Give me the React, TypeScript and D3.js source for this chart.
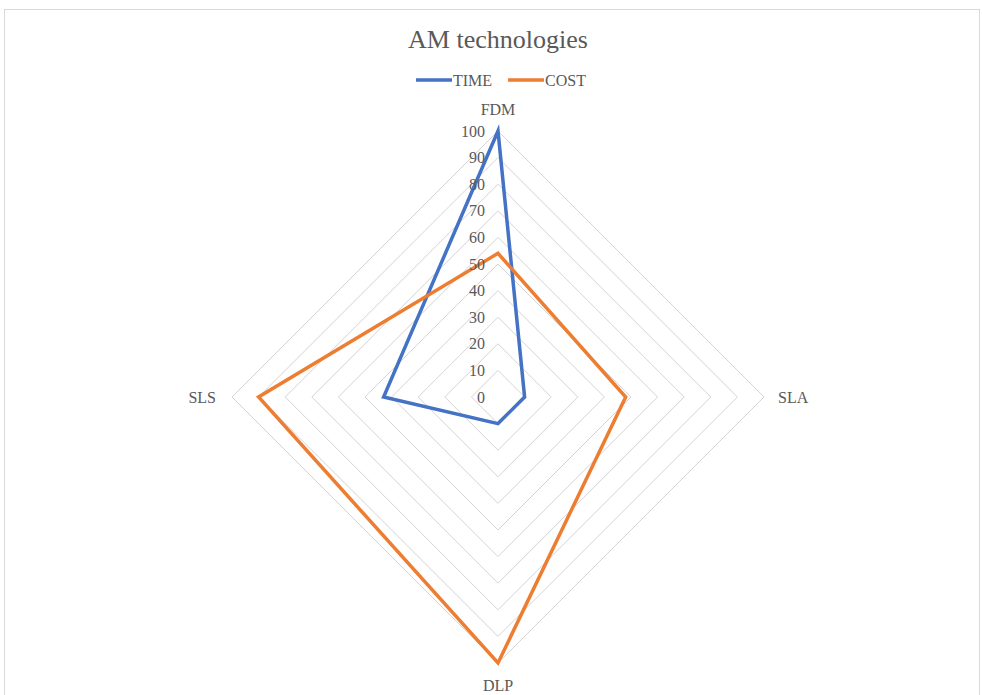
import { useEffect, useRef } from "react"
import * as d3 from "d3"

const axes = ["FDM", "SLA", "DLP", "SLS"]
const timeValues = [100, 10, 10, 43]
const costValues = [54, 48, 100, 90]
const tickValues = [0, 10, 20, 30, 40, 50, 60, 70, 80, 90, 100]
const seriesNames = ["TIME", "COST"]
const seriesColors = ["#4472C4", "#ED7D31"]

const App = () => {
  const ref = useRef<SVGSVGElement>(null)
  const width = 982
  const height = 695
  const cx = 498
  const cy = 397
  const radius = 266

  useEffect(() => {
    const svg = d3.select(ref.current)
    svg.selectAll("*").remove()
    const font = "'Liberation Serif', 'DejaVu Serif', serif"

    svg.append("rect")
      .attr("x", 4.5).attr("y", 9.5)
      .attr("width", 975).attr("height", 700)
      .attr("fill", "white").attr("stroke", "#d9d9d9")

    const r = d3.scaleLinear().domain([0, 100]).range([0, radius])
    const angle = d3.scalePoint<string>().domain(axes).range([0, 2 * Math.PI * 3 / 4])

    const pt = (a: string, v: number): [number, number] => {
      const t = angle(a)! - Math.PI / 2
      return [cx + r(v) * Math.cos(t), cy + r(v) * Math.sin(t)]
    }

    const g = svg.append("g")

    // grid diamonds
    tickValues.filter(t => t > 0).forEach(t => {
      g.append("path")
        .attr("d", d3.line()(axes.map(a => pt(a, t))) + "Z")
        .attr("fill", "none")
        .attr("stroke", "#d4d4d4")
        .attr("stroke-width", 1)
    })

    // series
    const allSeries = [timeValues, costValues]
    allSeries.forEach((vals, i) => {
      g.append("path")
        .attr("d", d3.line()(axes.map((a, j) => pt(a, vals[j]))) + "Z")
        .attr("fill", "none")
        .attr("stroke", seriesColors[i])
        .attr("stroke-width", 3.5)
        .attr("stroke-linejoin", "miter")
    })

    // tick labels
    g.selectAll(".tick")
      .data(tickValues)
      .join("text")
      .attr("x", cx - 13)
      .attr("y", d => cy - r(d))
      .attr("dy", "0.35em")
      .attr("text-anchor", "end")
      .attr("font-family", font)
      .attr("font-size", 16)
      .attr("fill", "#595959")
      .text(d => d)

    // axis labels
    const labelPos: Record<string, [number, number, string]> = {
      FDM: [cx, cy - radius - 22, "middle"],
      SLA: [cx + radius + 14, cy, "start"],
      DLP: [cx, cy + radius + 22, "middle"],
      SLS: [cx - radius - 16, cy, "end"],
    }
    axes.forEach(a => {
      const [x, y, anchor] = labelPos[a]
      g.append("text")
        .attr("x", x).attr("y", y)
        .attr("dy", "0.35em")
        .attr("text-anchor", anchor)
        .attr("font-family", font)
        .attr("font-size", 16)
        .attr("fill", "#595959")
        .text(a)
    })

    // title
    svg.append("text")
      .attr("x", cx).attr("y", 48)
      .attr("text-anchor", "middle")
      .attr("font-family", font)
      .attr("font-size", 26)
      .attr("fill", "#595959")
      .text("AM technologies")

    // legend
    const legendX = [416, 508]
    seriesNames.forEach((n, i) => {
      const lg = svg.append("g").attr("transform", `translate(${legendX[i]},80)`)
      lg.append("line")
        .attr("x1", 0).attr("x2", 36).attr("y1", 0).attr("y2", 0)
        .attr("stroke", seriesColors[i]).attr("stroke-width", 3.5)
      lg.append("text")
        .attr("x", 37).attr("y", 0).attr("dy", "0.35em")
        .attr("font-family", font)
        .attr("font-size", 16)
        .attr("fill", "#595959")
        .text(n)
    })
  }, [])

  return (
    <svg ref={ref} width={width} height={height}
      style={{ position: "absolute", left: 0, top: 0 }} />
  )
}

export default App
